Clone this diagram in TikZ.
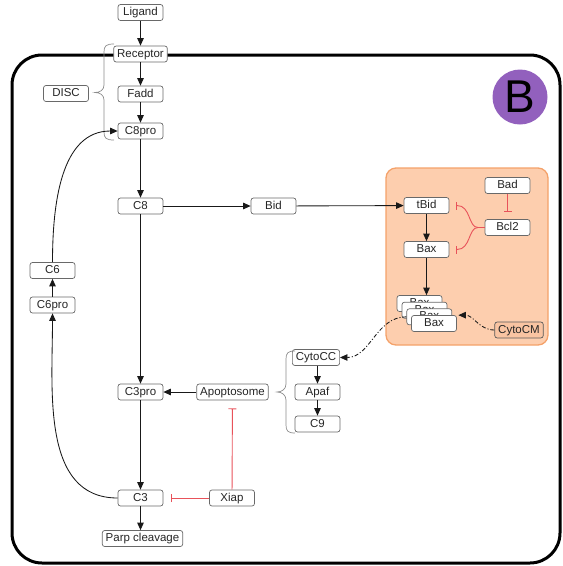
\documentclass[tikz,border=0pt]{standalone}
\usepackage{fontspec}
\setmainfont{Liberation Sans}
\usetikzlibrary{arrows.meta,calc}
\definecolor{boxline}{RGB}{105,105,105}
\definecolor{inhib}{RGB}{232,82,90}
\definecolor{peach}{RGB}{253,206,174}
\definecolor{peachline}{RGB}{244,162,106}
\definecolor{cmfill}{RGB}{249,196,162}
\definecolor{badge}{RGB}{146,96,189}
\begin{document}
\begin{tikzpicture}[x=1pt,y=-1pt,
  species/.style={draw=boxline, line width=0.7pt, fill=white, rounded corners=2.5pt,
    minimum width=45pt, minimum height=16pt, inner xsep=3.5pt, inner ysep=2pt,
    text height=8.3pt, text depth=2.2pt, font=\fontsize{11.5}{12}\selectfont, text=black!85},
  act/.style={-{Triangle[length=7.5pt,width=6.5pt]}, line width=0.85pt, draw=black!90},
  inh/.style={-{Bar[width=8pt]}, draw=inhib, line width=0.9pt},
  release/.style={act, dash pattern=on 4pt off 2pt on 1pt off 2pt},
  grouping/.style={draw=black!45, line width=0.7pt},
]
\useasboundingbox (0,0) rectangle (563,566);

% cell membrane
\draw[line width=3pt, rounded corners=30pt] (12,55) rectangle (560,563);

% mitochondrion compartment
\draw[fill=peach, draw=peachline, line width=1.3pt, rounded corners=10pt] (386,168) rectangle (548,345);

% panel badge
\node[circle, fill=badge, minimum size=55pt, inner sep=0pt,
      font=\fontsize{46}{46}\selectfont] (badge) at (520,97) {B};

% species
\node[species] (Ligand)   at (140.5,12.5) {Ligand};
\node[species] (Receptor) at (140.5,54)   {Receptor};
\node[species] (Fadd)     at (140.5,94)   {Fadd};
\node[species] (C8pro)    at (140.5,131)  {C8pro};
\node[species] (DISC)     at (66,93.5)  {DISC};
\node[species] (C8)       at (140.5,206) {C8};
\node[species] (Bid)      at (273.5,206) {Bid};
\node[species] (C6)       at (52.5,270.5) {C6};
\node[species] (C6pro)    at (52.5,305)  {C6pro};
\node[species] (C3pro)    at (140.5,392) {C3pro};
\node[species] (Apoptosome) at (232.5,392) {Apoptosome};
\node[species] (CytoCC)   at (316,357.5) {CytoCC};
\node[species] (Apaf)     at (317.5,392) {Apaf};
\node[species] (C9)       at (317.5,424) {C9};
\node[species] (C3)       at (140.5,498) {C3};
\node[species] (Xiap)     at (232,498)  {Xiap};
\node[species] (Parp)     at (142.5,538.5) {Parp cleavage};

\node[species] (tBid) at (426.5,205.5) {tBid};
\node[species] (Bad)  at (507.5,185.5) {Bad};
\node[species] (Bcl2) at (507.5,227.5) {Bcl2};
\node[species] (Bax)  at (426.5,249.5) {Bax};
\node[species] (bax1) at (419.5,303.5) {Bax};
\node[species] (bax2) at (424.5,310.2) {Bax};
\node[species] (bax3) at (429.3,316.8) {Bax};
\node[species] (bax4) at (434,323.5)   {Bax};
\node[species, fill=cmfill, draw=black!65] (CytoCM) at (519,330) {CytoCM};

% groupings
\draw[grouping] (114,44) .. controls (106,44) and (104,46) .. (104,52) -- (104,85)
  .. controls (104,90) and (100,92.5) .. (95,92.5)
  .. controls (100,92.5) and (104,95) .. (104,100) -- (104,132)
  .. controls (104,138) and (106,140) .. (114,140);
\draw[grouping] (295,351) .. controls (288,351) and (286,353) .. (286,359) -- (286,384)
  .. controls (286,389) and (282,392) .. (277,392)
  .. controls (282,392) and (286,395) .. (286,400) -- (286,425)
  .. controls (286,431) and (288,433) .. (295,433);

% activations
\draw[act] (Ligand) -- (Receptor);
\draw[act] (Receptor) -- (Fadd);
\draw[act] (Fadd) -- (C8pro);
\draw[act] (C8pro) -- (C8);
\draw[act] (C8) -- (C3pro);
\draw[act] (C8) -- (Bid);
\draw[act] (Bid) -- (tBid);
\draw[act] (tBid) -- (Bax);
\draw[act] (Bax.south) -- (Bax.south |- bax1.north);
\draw[act] (C3pro) -- (C3);
\draw[act] (C3.south) -- (C3.south |- Parp.north);
\draw[act] (Apoptosome) -- (C3pro);
\draw[act] (CytoCC.south -| Apaf) -- (Apaf);
\draw[act] (Apaf) -- (C9);
\draw[act] (C3.west) to[out=180,in=-90] (C6pro.south);
\draw[act] (C6pro) -- (C6);
\draw[act] (C6.north) to[out=90,in=180] (C8pro.west);

% cytochrome c release
\draw[release] (bax3.west) to[out=180,in=0] (CytoCC.east);
\draw[release] (CytoCM.west) to[out=180,in=0] ($(bax4.north east)+(1.5,0)$);

% inhibitions
\draw[inh, shorten >=8pt] (Xiap) -- (C3);
\draw[inh, shorten >=8pt] (Xiap) -- (Apoptosome);
\draw[inh, shorten >=7pt] (Bad) -- (Bcl2);
\coordinate (fork) at (478,227.5);
\draw[draw=inhib, line width=0.9pt] (Bcl2.west) -- (fork);
\draw[inh] (fork) .. controls (468,227.5) and (471,205.5) .. ([xshift=7pt]tBid.east);
\draw[inh] (fork) .. controls (468,227.5) and (471,249.5) .. ([xshift=7pt]Bax.east);
\end{tikzpicture}
\end{document}
